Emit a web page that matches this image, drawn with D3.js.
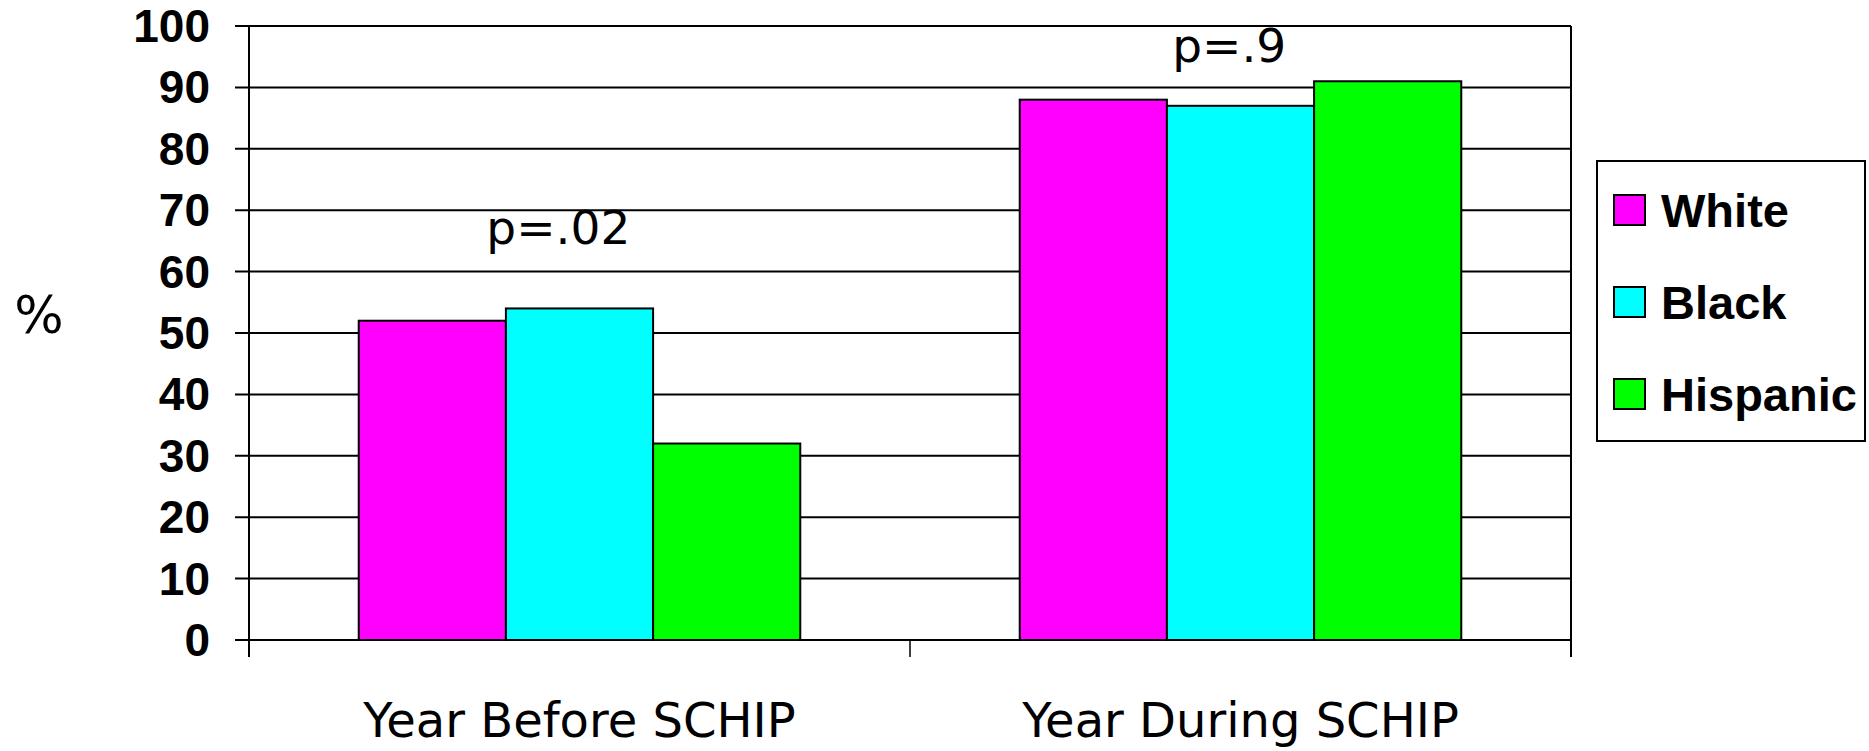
<!DOCTYPE html>
<html><head><meta charset="utf-8">
<script src="https://cdn.jsdelivr.net/npm/d3@7"></script>
<style>
html,body{margin:0;padding:0;background:#fff;}
svg{display:block;}
</style>
</head><body>
<svg id="chart" width="1869" height="751"></svg>
<script>
const categories = ["Year Before SCHIP", "Year During SCHIP"];
const seriesNames = ["White", "Black", "Hispanic"];
const white = [52, 88];
const black = [54, 87];
const hispanic = [32, 91];
const pLabels = ["p=.02", "p=.9"];
const yTicks = [0,10,20,30,40,50,60,70,80,90,100];
const colors = ["#FF00FF", "#00FFFF", "#00FF00"];

const seriesValues = [white, black, hispanic];
const data = categories.map((c, i) => ({
  cat: c,
  vals: seriesNames.map((s, j) => ({ s, v: seriesValues[j][i] }))
}));

const L = 249, R = 1571, T = 26, B = 640;
const svg = d3.select("#chart");

const x0 = d3.scaleBand().domain(categories).range([L, R]).padding(0);
const bw = x0.bandwidth();
const gap = bw * 0.166;
const x1 = d3.scaleBand().domain(seriesNames).range([gap, bw - gap]).padding(0);
const y = d3.scaleLinear().domain([0, 100]).range([B, T]);

// gridlines
svg.append("g").selectAll("line").data(yTicks).join("line")
  .attr("x1", L - 14).attr("x2", R)
  .attr("y1", d => y(d)).attr("y2", d => y(d))
  .attr("stroke", "#000").attr("stroke-width", 2);

// right border
svg.append("line").attr("x1", R).attr("x2", R).attr("y1", T).attr("y2", B + 17)
  .attr("stroke", "#000").attr("stroke-width", 2);
// left axis
svg.append("line").attr("x1", L).attr("x2", L).attr("y1", T).attr("y2", B + 17)
  .attr("stroke", "#000").attr("stroke-width", 2);
// category tick (middle)
svg.append("g").selectAll("line").data(categories.slice(1)).join("line")
  .attr("x1", d => x0(d)).attr("x2", d => x0(d))
  .attr("y1", B).attr("y2", B + 17)
  .attr("stroke", "#000").attr("stroke-width", 1.5);

// bars
const g = svg.append("g").selectAll("g").data(data).join("g")
  .attr("transform", d => `translate(${x0(d.cat)},0)`);
g.selectAll("rect").data(d => d.vals).join("rect")
  .attr("x", d => x1(d.s)).attr("width", x1.bandwidth())
  .attr("y", d => y(d.v)).attr("height", d => y(0) - y(d.v))
  .attr("fill", (d, i) => colors[i])
  .attr("stroke", "#000").attr("stroke-width", 2);

// y tick labels
svg.append("g").selectAll("text").data(yTicks).join("text")
  .attr("x", 210).attr("y", d => y(d) + 16)
  .attr("text-anchor", "end")
  .attr("font-family", "'Liberation Sans', Arial, sans-serif").attr("font-weight", "bold")
  .attr("font-size", 46).text(d => d);

// y axis title
svg.append("text").attr("x", 39).attr("y", 333).attr("text-anchor", "middle")
  .attr("font-family", "'DejaVu Sans', sans-serif").attr("font-size", 52).text("%");

// category labels
svg.append("g").selectAll("text").data(categories).join("text")
  .attr("x", d => x0(d) + bw / 2).attr("y", 737)
  .attr("text-anchor", "middle")
  .attr("font-family", "'DejaVu Sans', sans-serif").attr("font-size", 48)
  .text(d => d);

// p-value annotations
const pY = [244, 62];
const pX = [0.468, 0.483];
svg.append("g").selectAll("text").data(data).join("text")
  .attr("x", (d, i) => x0(d.cat) + bw * pX[i])
  .attr("y", (d, i) => pY[i])
  .attr("text-anchor", "middle")
  .attr("font-family", "'DejaVu Sans', sans-serif").attr("font-size", 47)
  .text((d, i) => pLabels[i]);

// legend
const lg = svg.append("g");
lg.append("rect").attr("x", 1597).attr("y", 161).attr("width", 268).attr("height", 280)
  .attr("fill", "#fff").attr("stroke", "#000").attr("stroke-width", 2);
const items = lg.selectAll("g").data(seriesNames).join("g")
  .attr("transform", (d, i) => `translate(1614, ${195 + i * 92})`);
items.append("rect").attr("width", 31).attr("height", 30)
  .attr("fill", (d, i) => colors[i]).attr("stroke", "#000").attr("stroke-width", 2);
items.append("text").attr("x", 47).attr("y", 32)
  .attr("font-family", "'Liberation Sans', Arial, sans-serif").attr("font-weight", "bold")
  .attr("font-size", 47).text(d => d);
</script>
</body></html>
